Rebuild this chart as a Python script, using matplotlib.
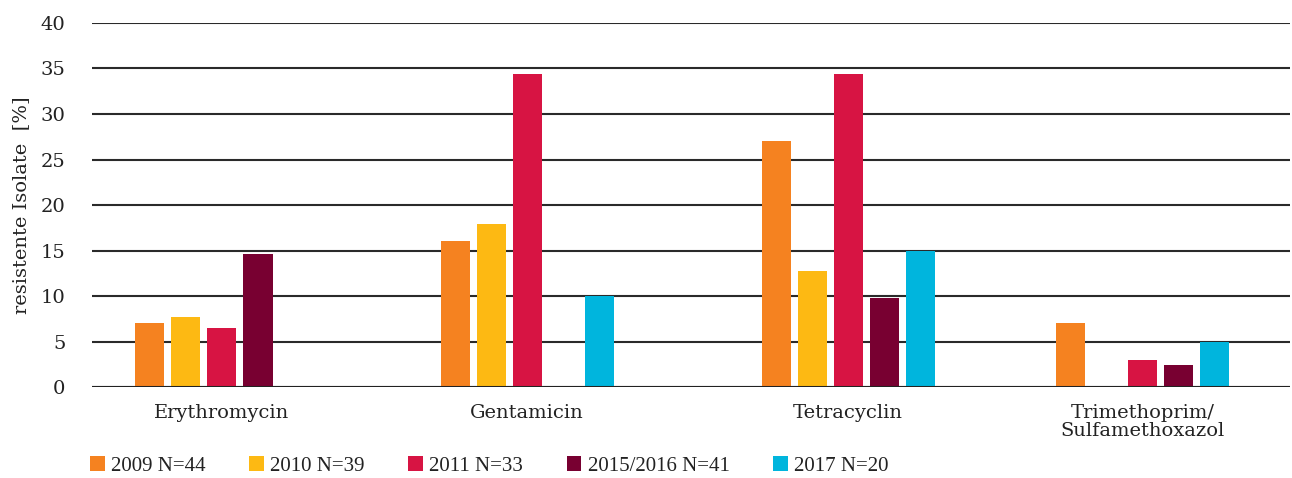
import numpy as np
import matplotlib.pyplot as plt
from matplotlib.patches import Patch

plt.rcParams['font.family'] = ['DejaVu Serif']

categories = ['Erythromycin', 'Gentamicin', 'Tetracyclin', 'Trimethoprim/\nSulfamethoxazol']
series = ['2009 N=44', '2010 N=39', '2011 N=33', '2015/2016 N=41', '2017 N=20']
colors = ['#F58220', '#FDB913', '#D71443', '#780031', '#00B5DD']

v2009 = [7.0, 16.0, 27.0, 7.0]
v2010 = [7.7, 17.9, 12.8, 0.0]
v2011 = [6.5, 34.4, 34.4, 3.0]
v2015 = [14.6, 0.0, 9.8, 2.4]
v2017 = [0.0, 10.0, 15.0, 5.0]
values = [v2009, v2010, v2011, v2015, v2017]

fig = plt.figure(figsize=(12.92, 4.78), dpi=100)
ax = fig.add_axes([0.0712, 0.19, 0.927, 0.762])

# group centres are not quite evenly spaced in the original
x = np.array([0.0, 0.975, 2.0, 2.94])
width = 0.093
pitch = 0.115
for i, (name, vals, c) in enumerate(zip(series, values, colors)):
    ax.bar(x + (i - 2) * pitch, vals, width, color=c, label=name, zorder=3)

ax.set_xlim(-0.415, 3.41)
ax.set_ylim(0, 40)
ax.set_yticks(range(0, 41, 5))
ax.grid(axis='y', color='#2a2a2a', linewidth=1.5, zorder=0)
ax.axhline(0, color='#222222', linewidth=2.2, zorder=4)
for s in ax.spines.values():
    s.set_visible(False)
ax.tick_params(axis='both', length=0, labelsize=14, colors='#222222')
ax.tick_params(axis='y', pad=19)
ax.tick_params(axis='x', pad=12)
ax.set_xticks(x)
ax.set_xticklabels(categories, linespacing=1.0)
ax.set_ylabel('resistente Isolate  [%]', fontsize=14, color='#222222', labelpad=8)

# legend font in the original is narrower than the axis labels
handles = [Patch(facecolor=c, label=n) for n, c in zip(series, colors)]
fig.legend(handles=handles, loc='lower left', bbox_to_anchor=(0.06, -0.022), ncol=5,
           frameon=False, prop={'family': 'Liberation Serif', 'size': 15},
           handlelength=0.7, handleheight=0.7, labelcolor='#222222',
           handletextpad=0.3, columnspacing=2.1, borderaxespad=0.2)

fig.savefig('out.png', dpi=100)
